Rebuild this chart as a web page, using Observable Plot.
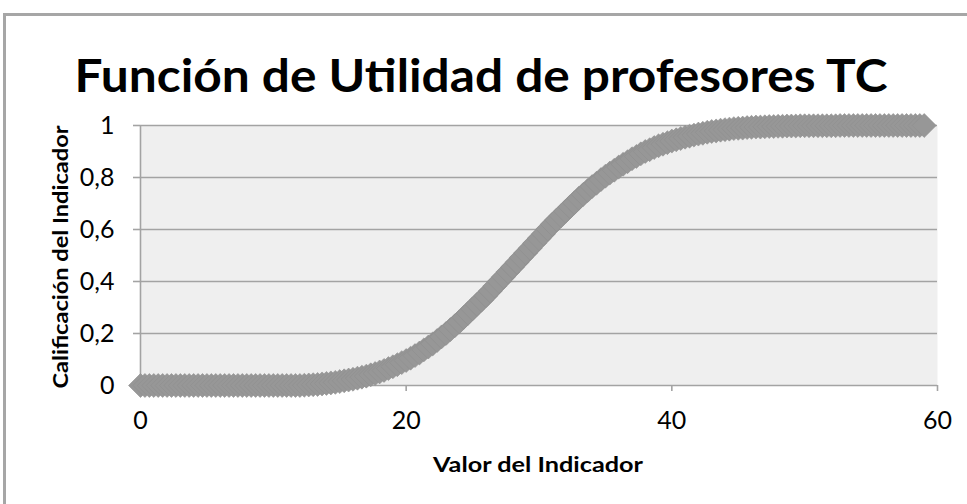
<!DOCTYPE html>
<html>
<head>
<meta charset="utf-8">
<script src="https://cdn.jsdelivr.net/npm/d3@7"></script>
<script src="https://cdn.jsdelivr.net/npm/@observablehq/plot@0.6"></script>
<style>
  html, body { margin: 0; padding: 0; background: #fff; }
  #chart svg { display: block; }
</style>
</head>
<body>
<div id="chart"></div>
<script>
// ---- Data ----
const title = "Función de Utilidad de profesores TC";
const xTitle = "Valor del Indicador";
const yTitle = "Calificación del Indicador";
const xTicks = [0, 20, 40, 60];
const yTicks = [0, 0.2, 0.4, 0.6, 0.8, 1];
const xStep = 1 / 3; // markers are spaced a third of a unit apart
// utility value for x = 0, 1/3, 2/3, ... , 60
const utility = [
  0,0,0, 0,0,0, 0,0,0, 0,0,0, 0,0,0, 0,0,0, 0,0,0, 0,0,0, 0,0,0, 0,0,0, 0,0,0, 0,0,0,
  0,0.001,0.002, 0.003,0.004,0.006, 0.008,0.010,0.012, 0.015,0.018,0.021,
  0.024,0.028,0.032, 0.036,0.041,0.046, 0.052,0.058,0.065, 0.072,0.080,0.088,
  0.096,0.105,0.115, 0.125,0.137,0.148, 0.160,0.173,0.187, 0.200,0.215,0.230,
  0.245,0.262,0.278, 0.295,0.312,0.328, 0.345,0.363,0.382, 0.400,0.418,0.437,
  0.455,0.473,0.492, 0.510,0.528,0.547, 0.565,0.583,0.602, 0.620,0.637,0.653,
  0.670,0.687,0.703, 0.720,0.735,0.750, 0.765,0.778,0.792, 0.805,0.817,0.828,
  0.840,0.851,0.861, 0.872,0.881,0.891, 0.900,0.907,0.915, 0.922,0.928,0.934,
  0.940,0.945,0.950, 0.955,0.959,0.963, 0.967,0.970,0.974, 0.977,0.979,0.982,
  0.984,0.986,0.988, 0.989,0.990,0.992, 0.993,0.994,0.994, 0.995,0.996,0.996,
  0.997,0.997,0.998, 0.998,0.998,0.999, 0.999,0.999,0.999, 0.999,0.999,0.999,
  0.999,0.999,1, 1,1,1, 1,1,1, 1,1,1, 1,1,1, 1,1,1, 1,1,1, 1
];

const points = utility.map((v, i) => ({x: i * xStep, y: v}));

const FONT = "Lato, 'Open Sans', sans-serif";
const GRID = "#a3a3a3";
const fmt = d => String(d).replace(".", ",");

const plot = Plot.plot({
  width: 967,
  height: 504,
  marginLeft: 140,
  marginRight: 30,
  marginTop: 125,
  marginBottom: 119,
  style: {fontFamily: FONT, fontSize: "25px", color: "#000", background: "#fff", overflow: "visible"},
  x: {domain: [0, 60]},
  y: {domain: [0, 1]},
  marks: [
    Plot.frame({fill: "#efefef", stroke: null}),
    Plot.ruleY(yTicks.filter(d => d > 0), {stroke: GRID, strokeWidth: 1.6}),
    Plot.ruleX([0], {stroke: GRID, strokeWidth: 1.6}),
    Plot.ruleY([0], {stroke: GRID, strokeWidth: 1.6}),
    Plot.axisY({ticks: yTicks, tickSize: 7, stroke: GRID, strokeWidth: 1.6, text: null, label: null}),
    Plot.axisY({ticks: yTicks, tickSize: 7, tickPadding: 19, tickFormat: fmt, label: null, fill: "#000", stroke: "none", fontSize: 25}),
    Plot.axisX({ticks: xTicks, tickSize: 6, stroke: GRID, strokeWidth: 1.6, text: null, label: null}),
    Plot.axisX({ticks: xTicks, tickSize: 6, tickPadding: 20, label: null, fill: "#000", stroke: "none", fontSize: 25}),
    Plot.dot(points, {x: "x", y: "y", symbol: "diamond2", r: 10.8, fill: "#979797", stroke: "#8e8e8e", strokeWidth: 0.6})
  ]
});

const svg = d3.select(plot);
svg.selectAll('[aria-label="x-axis tick label"], [aria-label="y-axis tick label"]')
  .attr("font-size", 25).style("font-size", "25px");
// outer chart border
svg.append("rect")
  .attr("x", 4.5).attr("y", 14.5).attr("width", 1000).attr("height", 600)
  .attr("fill", "none").attr("stroke", "#a6a6a6").attr("stroke-width", 3);
// title
svg.append("text")
  .attr("x", 481).attr("y", 92).attr("text-anchor", "middle")
  .attr("font-family", FONT).attr("font-weight", "bold").attr("font-size", 46)
  .attr("textLength", 813).attr("lengthAdjust", "spacingAndGlyphs")
  .attr("fill", "#000").text(title);
// x axis title
svg.append("text")
  .attr("x", 538).attr("y", 472).attr("text-anchor", "middle")
  .attr("font-family", FONT).attr("font-weight", "bold").attr("font-size", 20)
  .attr("textLength", 210).attr("lengthAdjust", "spacingAndGlyphs")
  .attr("fill", "#000").text(xTitle);
// y axis title
svg.append("text")
  .attr("transform", "translate(68,257) rotate(-90)").attr("text-anchor", "middle")
  .attr("font-family", FONT).attr("font-weight", "bold").attr("font-size", 20)
  .attr("textLength", 263).attr("lengthAdjust", "spacingAndGlyphs")
  .attr("fill", "#000").text(yTitle);

document.getElementById("chart").appendChild(plot);
</script>
</body>
</html>
